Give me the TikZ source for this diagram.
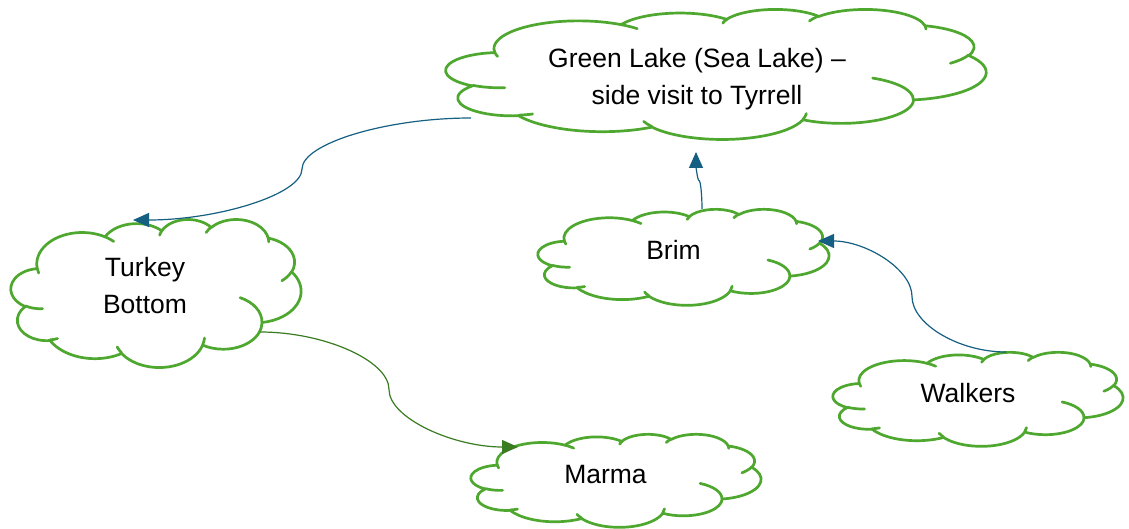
\documentclass[tikz,border=0pt]{standalone}
\usepackage{fontspec}
\setmainfont{Liberation Sans}
\usetikzlibrary{arrows.meta,calc}
\definecolor{cloudgreen}{HTML}{4EA72E}
\definecolor{linkblue}{HTML}{156082}
\definecolor{linkgreen}{HTML}{3A7C22}
% elliptical arc with OOXML (visual) angles, y axis pointing down
\newcommand\oarc[4]{arc[start angle={atan2(#1*sin(#3),#2*cos(#3))}, delta angle={mod(atan2(#1*sin(#3+#4),#2*cos(#3+#4))-atan2(#1*sin(#3),#2*cos(#3))+360,360)}, x radius=#1, y radius=#2]}
% Office-style cloud: name, cx, cy, W, H
\newcommand\ocloud[5]{%
  \pgfmathsetmacro\ocW{#4/43.2}%
  \pgfmathsetmacro\ocH{#5/43.2}%
  \begin{scope}[shift={(#2-#4/2,#3-#5/2)}, x={(\ocW pt,0pt)}, y={(0pt,-\ocH pt)}]
    \draw[cloudline] (3.900,14.370)
      \oarc{6.753}{9.190}{-190.4875}{123.7805}
      \oarc{5.333}{7.267}{-144.1024}{89.9452}
      \oarc{4.365}{5.945}{-145.8079}{99.7230}
      \oarc{4.857}{6.595}{-130.9861}{117.2417}
      \oarc{5.333}{7.273}{-78.7089}{109.0269}
      \oarc{6.775}{9.220}{-46.2673}{130.2690}
      \oarc{5.785}{7.867}{0.6250}{114.0333}
      \oarc{6.752}{9.215}{22.4516}{115.1726}
      \oarc{7.720}{10.543}{66.2426}{75.7110}
      \oarc{4.360}{5.918}{-274.9421}{146.7356}
      \oarc{4.345}{5.945}{-246.8285}{152.5189}
      -- cycle;
    \draw[cloudline]
      (4.693,26.177) \oarc{4.345}{5.945}{86.7420}{26.4295}
      (6.928,34.899) \oarc{4.360}{5.918}{73.6105}{11.4475}
      (16.478,39.090) \oarc{6.752}{9.215}{137.6242}{14.0811}
      (28.827,34.751) \oarc{6.752}{9.215}{6.4533}{15.9984}
      (34.129,22.954) \oarc{5.785}{7.867}{-70.2924}{70.9174}
      (41.798,15.354) \oarc{5.333}{7.273}{30.3180}{27.7515}
      (38.324,5.426) \oarc{4.857}{6.595}{-13.7443}{14.8589}
      (29.078,3.952) \oarc{4.857}{6.595}{-149.1815}{18.1954}
      (22.141,4.720) \oarc{4.365}{5.945}{-163.4943}{17.6864}
      (14.000,5.192) \oarc{6.753}{9.190}{-66.7070}{12.3194}
      (4.127,15.789) \oarc{6.753}{9.190}{157.6544}{11.8582};
  \end{scope}
  \node[cloudbox, minimum width=#4pt, minimum height=#5pt] (#1) at (#2,#3) {};
}
% curved connectors (Office curvedConnector3 style)
\newcommand\hconn[3]{%
  \path (#2) -- (#3) coordinate[pos=.25] (tmpqa) coordinate[pos=.5] (tmpm) coordinate[pos=.75] (tmpqb);
  \draw[#1] (#2) .. controls (tmpqa |- #2) and (tmpm |- tmpqa) .. (tmpm)
                 .. controls (tmpm |- tmpqb) and (tmpqb |- #3) .. (#3);
}
\newcommand\vconn[3]{%
  \path (#2) -- (#3) coordinate[pos=.25] (tmpqa) coordinate[pos=.5] (tmpm) coordinate[pos=.75] (tmpqb);
  \draw[#1] (#2) .. controls (#2 |- tmpqa) and (tmpqa |- tmpm) .. (tmpm)
                 .. controls (tmpqb |- tmpm) and (#3 |- tmpqb) .. (#3);
}
\begin{document}
\begin{tikzpicture}[x=1pt, y=-1pt,
  cloudline/.style={draw=cloudgreen, line width=2.7pt, line join=round, line cap=round},
  cloudbox/.style={inner sep=0pt, outer sep=0pt, draw=none},
  lbl/.style={font=\fontsize{26.5}{37}\selectfont, align=center, inner sep=0pt, text=black},
  link/.style={color=linkblue, line width=1.2pt, -{Triangle[length=16pt,width=14pt]}},
  linkg/.style={link, color=linkgreen}]
  \fill[white] (0,0) rectangle (1129,529);
  \useasboundingbox (0,0) rectangle (1129,529);

  \ocloud{gl}{716}{74}{540}{130}
  \ocloud{tb}{156}{293}{290}{148}
  \ocloud{br}{683.5}{257}{291}{96}
  \ocloud{wk}{978}{399}{290}{94}
  \ocloud{mm}{616}{480.5}{290}{93}

  \node[lbl] (gl-t) at (697,79) {Green Lake (Sea Lake) –\\side visit to Tyrrell};
  \node[lbl] (tb-t) at (145,286) {Turkey\\Bottom};
  \node[lbl] (br-t) at (673.5,250) {Brim};
  \node[lbl] (wk-t) at (968,393) {Walkers};
  \node[lbl] (mm-t) at (605.5,475) {Marma};

  \coordinate (gl-out) at ($(gl.center)+(-245,44)$);
  \coordinate (tb-in)  at ($(tb.center)+(-23,-73)$);
  \coordinate (br-out) at ($(br.center)+(18.5,-48)$);
  \coordinate (gl-in)  at ($(gl.center)+(-20,78)$);
  \coordinate (wk-out) at ($(wk.center)+(28,-47)$);
  \coordinate (br-in)  at ($(br.center)+(134.5,-16)$);
  \coordinate (tb-out) at ($(tb.center)+(104,39)$);
  \coordinate (mm-in)  at ($(mm.center)+(-98,-33.5)$);

  \hconn{link}{gl-out}{tb-in}
  \vconn{link}{br-out}{gl-in}
  \hconn{link}{wk-out}{br-in}
  \hconn{linkg}{tb-out}{mm-in}
\end{tikzpicture}
\end{document}
